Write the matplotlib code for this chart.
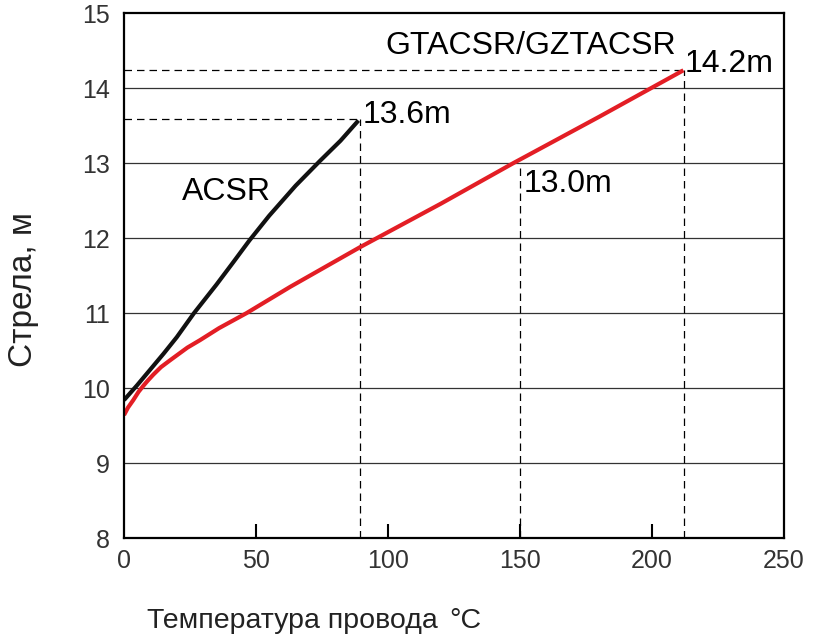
import matplotlib.pyplot as plt

# данные
temp_acsr = [0, 5, 10, 15, 20, 26.5, 35, 41.4, 47.5, 55, 65, 74.2, 82, 88.8]
sag_acsr = [9.84, 10.04, 10.25, 10.46, 10.68, 11.0, 11.38, 11.68, 11.97, 12.3, 12.7, 13.03, 13.3, 13.57]

temp_gt = [0, 1.5, 3.5, 5.5, 7.3, 9, 11.1, 14, 17.4, 20.5, 24, 28.8, 36, 46.4, 62.9, 89.4, 120, 147.4, 180, 211.9]
sag_gt = [9.64, 9.74, 9.84, 9.95, 10.03, 10.1, 10.18, 10.28, 10.37, 10.45, 10.54, 10.64, 10.8,
          11.0, 11.35, 11.88, 12.46, 13.0, 13.62, 14.24]

x_ticks = [0, 50, 100, 150, 200, 250]
y_ticks = [8, 9, 10, 11, 12, 13, 14, 15]

mark_acsr = (89.5, 13.59)
mark_gt = (212, 14.25)
mark_mid = (150, 13.0)

plt.rcParams['font.family'] = ['Liberation Sans', 'DejaVu Sans']

fig = plt.figure(figsize=(8.17, 6.34), dpi=100)
ax = fig.add_axes([0.1518, 0.1514, 0.8078, 0.8276])

for y in y_ticks[1:-1]:
    ax.axhline(y, color='#333333', lw=0.9, zorder=1)

dash = dict(color='black', lw=0.9, ls=(0, (6, 4)), zorder=2)
ax.plot([0, mark_acsr[0]], [mark_acsr[1]] * 2, **dash)
ax.plot([mark_acsr[0]] * 2, [8, mark_acsr[1]], **dash)
ax.plot([0, mark_gt[0]], [mark_gt[1]] * 2, **dash)
ax.plot([mark_gt[0]] * 2, [8, mark_gt[1]], **dash)
ax.plot([mark_mid[0]] * 2, [8, mark_mid[1]], **dash)

ax.plot(temp_acsr, sag_acsr, color='#111111', lw=3, solid_capstyle='butt',
        solid_joinstyle='round', zorder=3)
ax.plot(temp_gt, sag_gt, color='#e31e25', lw=3, solid_capstyle='butt',
        solid_joinstyle='round', zorder=4)

fs = 23
ax.text(90.5, 13.65, '13.6m', fontsize=fs, va='center', ha='left')
ax.text(212.5, 14.33, '14.2m', fontsize=fs, va='center', ha='left')
ax.text(151.5, 12.72, '13.0m', fontsize=fs, va='center', ha='left')
ax.text(153.9, 14.56, 'GTACSR/GZTACSR', fontsize=fs, va='center', ha='center')
ax.text(38.8, 12.61, 'ACSR', fontsize=fs, va='center', ha='center')

ax.set_xlim(0, 250)
ax.set_ylim(8, 15)
ax.set_xticks(x_ticks)
ax.set_yticks(y_ticks)
ax.tick_params(axis='x', direction='in', length=10, width=1.5, pad=8,
               labelsize=18, labelcolor='#333333')
ax.tick_params(axis='y', length=0, pad=10, labelsize=18, labelcolor='#333333')
ax.xaxis.get_major_ticks()[0].tick1line.set_visible(False)
ax.xaxis.get_major_ticks()[-1].tick1line.set_visible(False)

for s in ax.spines.values():
    s.set_linewidth(1.6)
    s.set_zorder(5)

fig.text(0.029, 0.543, 'Стрела, м', rotation=90, fontsize=24,
         ha='center', va='center', color='#222222')
fig.text(0.18, 0.01, 'Температура провода', fontsize=20.5,
         ha='left', va='baseline', color='#222222')
fig.text(0.55, 0.01, '°C', fontsize=20.5,
         ha='left', va='baseline', color='#222222')

fig.savefig('out.png', dpi=100)
